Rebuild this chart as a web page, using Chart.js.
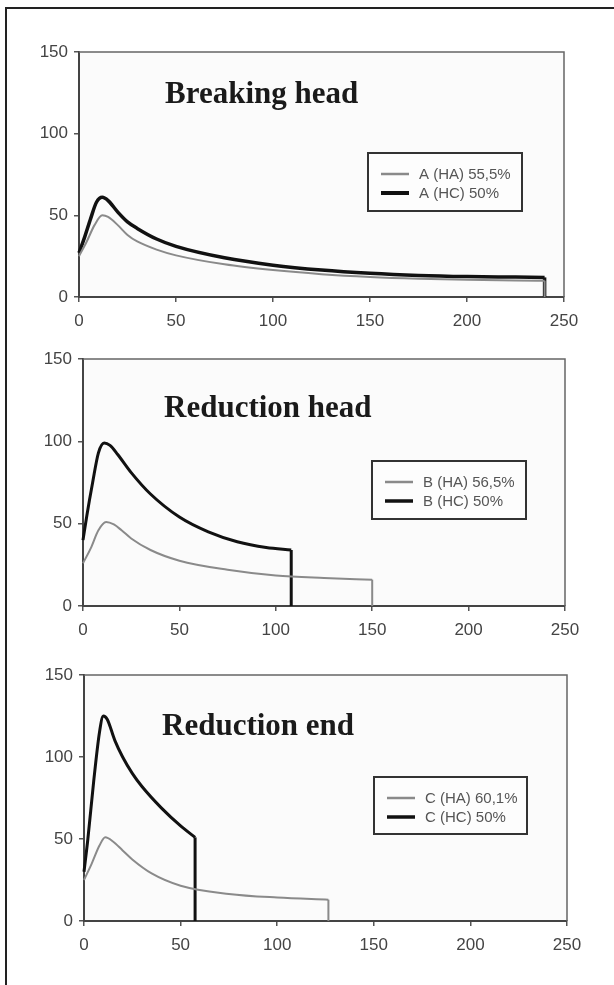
<!DOCTYPE html>
<html>
<head>
<meta charset="utf-8">
<script src="https://cdn.jsdelivr.net/npm/chart.js@4.4.1/dist/chart.umd.min.js"></script>
<style>
html, body { margin: 0; padding: 0; background: #fff; overflow: hidden; }
#page { position: relative; width: 614px; height: 985px; }
#frame { position: absolute; left: 5px; top: 7px; width: 700px; height: 1100px;
  border-top: 2px solid #222; border-left: 2px solid #222; }
canvas { position: absolute; left: 0; }
</style>
</head>
<body>
<div id="page">
  <div id="frame"></div>
  <canvas id="c1" style="top:0px"></canvas>
  <canvas id="c2" style="top:320px"></canvas>
  <canvas id="c3" style="top:640px"></canvas>
</div>
<script>
// axes
const xTicks = [0, 50, 100, 150, 200, 250];
const yTicks = [0, 50, 100, 150];

const titles = ['Breaking head', 'Reduction head', 'Reduction end'];
const labelsHA = ['A (HA) 55,5%', 'B (HA) 56,5%', 'C (HA) 60,1%'];
const labelsHC = ['A (HC) 50%', 'B (HC) 50%', 'C (HC) 50%'];

// Breaking head (each curve ends with a vertical drop to 0 at its last x)
const aHA_x = [0, 4, 8, 12, 15, 20, 25, 30, 40, 50, 75, 100, 125, 150, 175, 200, 225, 240];
const aHA_y = [25, 34, 44, 50, 49, 44, 38, 34, 29, 25.5, 20, 16.5, 14, 12.3, 11.2, 10.5, 10.1, 10];
const aHC_x = [0, 3, 6, 9, 12, 15, 20, 25, 30, 40, 50, 75, 100, 125, 150, 175, 200, 225, 240];
const aHC_y = [27, 37, 48, 58, 61, 59, 52, 46, 42, 35.5, 31, 24, 19.5, 16.5, 14.5, 13.2, 12.5, 12.2, 12];

// Reduction head
const bHA_x = [0, 4, 8, 12, 16, 20, 25, 35, 50, 75, 100, 125, 150];
const bHA_y = [26, 35, 46, 51, 49.5, 46, 41, 34, 27.5, 22, 18.5, 17, 16];
const bHC_x = [0, 2, 5, 8, 11, 14, 18, 25, 35, 50, 65, 80, 95, 108];
const bHC_y = [40, 55, 75, 93, 99, 97.5, 92, 81, 68, 54, 45, 39, 35.5, 34];

// Reduction end
const cHA_x = [0, 4, 8, 11, 15, 20, 25, 35, 50, 75, 100, 126.5];
const cHA_y = [25, 35, 46, 51, 48.5, 43, 37.5, 29, 21.5, 16.5, 14.3, 13];
const cHC_x = [0, 2, 5, 8, 10, 12, 16, 20, 25, 30, 40, 50, 57.5];
const cHC_y = [30, 50, 85, 115, 125, 123, 110, 100, 90, 82, 69, 58, 51];

function pts(xs, ys) {
    return xs.map((x, i) => ({x: x, y: ys[i]}));
}

function dropOf(xs, ys) {
    const last = xs.length - 1;
    return [{x: xs[last], y: ys[last]}, {x: xs[last], y: yTicks[0]}];
}

const panels = [
    {id: 'c1', h: 330, left: 79, right: 564, top: 52, bottom: 297,
        titleDx: 86, titleDy: 51, legend: {x: 368, y: 153, w: 154, h: 58},
        haX: aHA_x, haY: aHA_y, hcX: aHC_x, hcY: aHC_y, hcWidth: 3.5},
    {id: 'c2', h: 320, left: 83, right: 565, top: 39, bottom: 286,
        titleDx: 81, titleDy: 58, legend: {x: 372, y: 141, w: 154, h: 58},
        haX: bHA_x, haY: bHA_y, hcX: bHC_x, hcY: bHC_y, hcWidth: 3},
    {id: 'c3', h: 345, left: 84, right: 567, top: 35, bottom: 281,
        titleDx: 78, titleDy: 60, legend: {x: 374, y: 137, w: 153, h: 57},
        haX: cHA_x, haY: cHA_y, hcX: cHC_x, hcY: cHC_y, hcWidth: 3}
];

const decorPlugin = {
    id: 'decor',
    beforeDraw(chart, args, opts) {
        const a = chart.chartArea;
        const ctx = chart.ctx;
        ctx.save();
        ctx.fillStyle = '#fbfbfb';
        ctx.fillRect(a.left, a.top, a.right - a.left, a.bottom - a.top);
        ctx.restore();
    },
    afterDraw(chart, args, opts) {
        const a = chart.chartArea;
        const ctx = chart.ctx;
        ctx.save();
        // top / right frame of the plot
        ctx.strokeStyle = '#666';
        ctx.lineWidth = 1.5;
        ctx.beginPath();
        ctx.moveTo(a.left, a.top);
        ctx.lineTo(a.right, a.top);
        ctx.lineTo(a.right, a.bottom);
        ctx.stroke();

        // title inside plot
        ctx.fillStyle = '#1a1a1a';
        ctx.font = 'bold 31px "Liberation Serif"';
        ctx.textAlign = 'left';
        ctx.textBaseline = 'alphabetic';
        ctx.fillText(opts.text, a.left + opts.dx, a.top + opts.dy);

        // legend box
        const L = opts.box;
        ctx.strokeStyle = '#333';
        ctx.lineWidth = 2;
        ctx.fillStyle = '#fdfdfd';
        ctx.fillRect(L.x, L.y, L.w, L.h);
        ctx.strokeRect(L.x, L.y, L.w, L.h);
        ctx.font = '15px "Liberation Sans"';
        ctx.textBaseline = 'middle';
        chart.data.datasets.slice(0, 2).forEach((ds, i) => {
            const y = L.y + 21 + i * 19;
            ctx.strokeStyle = ds.borderColor;
            ctx.lineWidth = ds.borderWidth + 0.5;
            ctx.beginPath();
            ctx.moveTo(L.x + 13, y);
            ctx.lineTo(L.x + 41, y);
            ctx.stroke();
            ctx.fillStyle = '#555';
            ctx.fillText(ds.label, L.x + 51, y + 1);
        });
        ctx.restore();
    }
};

panels.forEach((p, i) => {
    const canvas = document.getElementById(p.id);
    canvas.width = 614;
    canvas.height = p.h;

    const lineStyle = (color, width) => ({
        showLine: true, borderColor: color, borderWidth: width, pointRadius: 0,
        cubicInterpolationMode: 'monotone', clip: 4
    });

    new Chart(canvas, {
        type: 'scatter',
        data: {
            datasets: [
                Object.assign({label: labelsHA[i], data: pts(p.haX, p.haY)}, lineStyle('#8a8a8a', 2)),
                Object.assign({label: labelsHC[i], data: pts(p.hcX, p.hcY)}, lineStyle('#111', p.hcWidth)),
                Object.assign({label: '', data: dropOf(p.haX, p.haY)}, lineStyle('#8a8a8a', 2)),
                Object.assign({label: '', data: dropOf(p.hcX, p.hcY)}, lineStyle('#111', p.hcWidth))
            ]
        },
        options: {
            responsive: false,
            animation: false,
            devicePixelRatio: 1,
            layout: {padding: {left: 0, right: 614 - p.right, top: p.top, bottom: 0}},
            plugins: {
                legend: {display: false},
                tooltip: {enabled: false},
                decor: {text: titles[i], dx: p.titleDx, dy: p.titleDy, box: p.legend}
            },
            scales: {
                x: {
                    type: 'linear',
                    min: xTicks[0],
                    max: xTicks[xTicks.length - 1],
                    afterBuildTicks: s => { s.ticks = xTicks.map(v => ({value: v})); },
                    afterFit: s => { s.height = p.h - p.bottom; },
                    grid: {drawOnChartArea: false, drawTicks: true, tickLength: 5, color: '#555', lineWidth: 1.5},
                    border: {color: '#444', width: 2},
                    ticks: {color: '#444', padding: 9, maxRotation: 0,
                        font: {family: '"Liberation Sans"', size: 17}}
                },
                y: {
                    type: 'linear',
                    min: yTicks[0],
                    max: yTicks[yTicks.length - 1],
                    afterBuildTicks: s => { s.ticks = yTicks.map(v => ({value: v})); },
                    afterFit: s => { s.width = p.left; },
                    grid: {drawOnChartArea: false, drawTicks: true, tickLength: 5, color: '#555', lineWidth: 1.5},
                    border: {color: '#444', width: 2},
                    ticks: {color: '#444', padding: 6,
                        font: {family: '"Liberation Sans"', size: 17}}
                }
            }
        },
        plugins: [decorPlugin]
    });
});
</script>
</body>
</html>
